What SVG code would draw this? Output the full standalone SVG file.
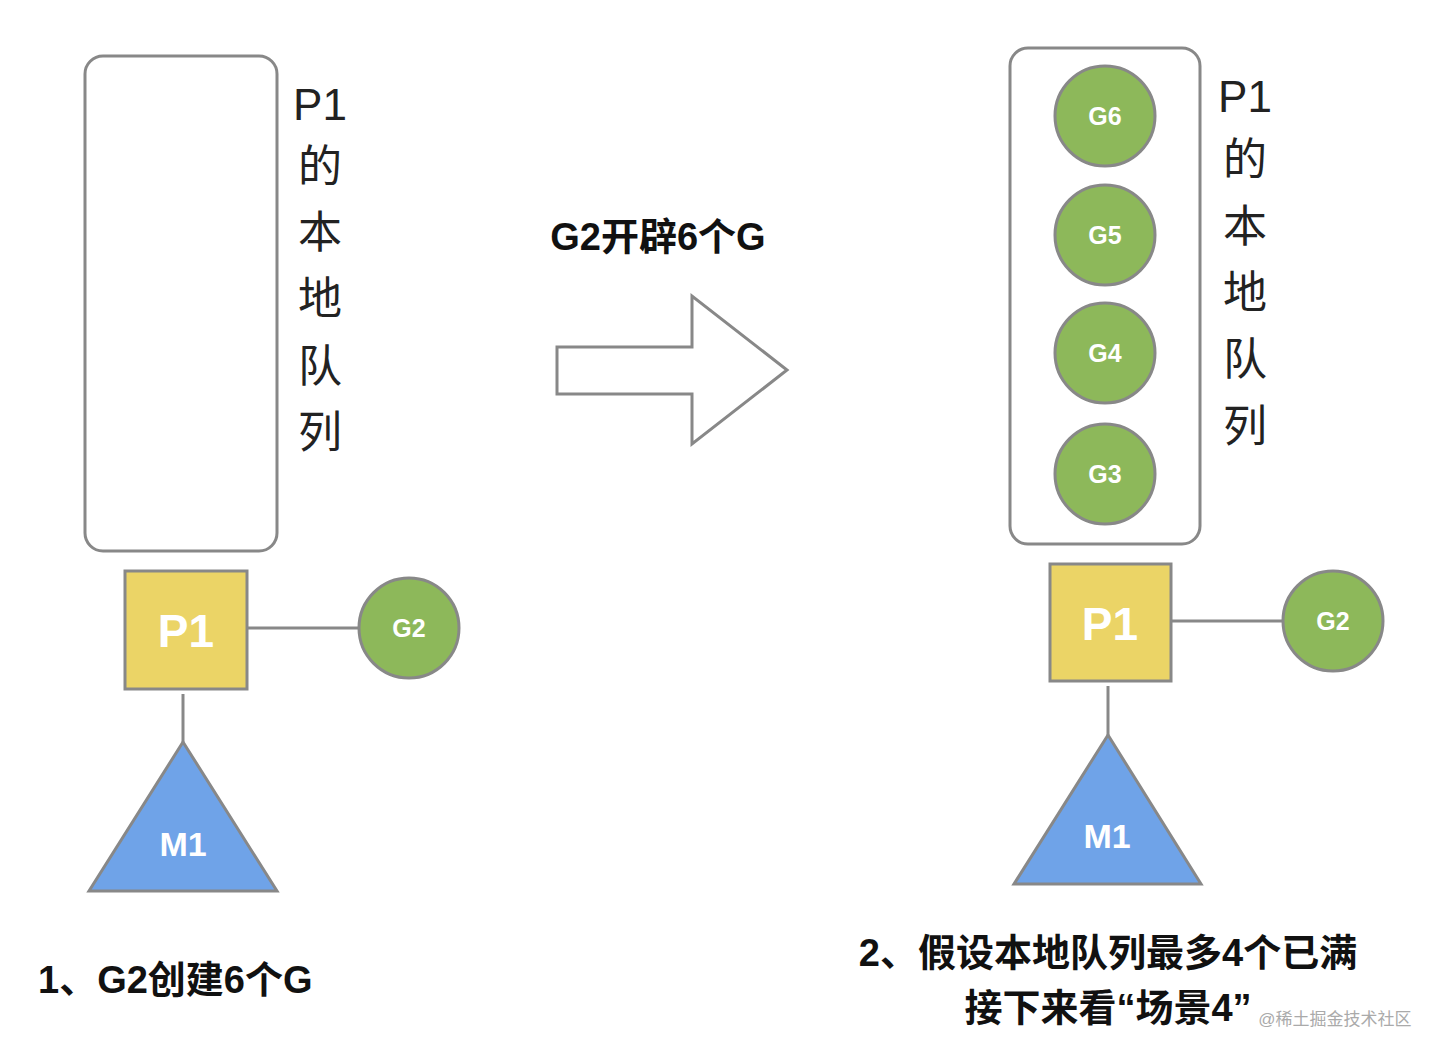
<svg xmlns="http://www.w3.org/2000/svg" width="1442" height="1056" viewBox="0 0 1442 1056">
<style>
.q{fill:#fff;stroke:#888;stroke-width:3}
.p{fill:#ebd466;stroke:#888;stroke-width:3}
.g{fill:#8db85a;stroke:#888;stroke-width:3}
.m{fill:#6fa3e8;stroke:#888;stroke-width:3}
.ln{stroke:#888;stroke-width:3;fill:none}
.w{fill:#fff;font-family:"Liberation Sans",Arial,sans-serif;font-weight:bold;text-anchor:middle}
.v{fill:#222;font-family:"Liberation Sans","Noto Sans CJK SC",sans-serif;font-size:44px;text-anchor:middle}
.b{fill:#111;font-family:"Liberation Sans","Noto Sans CJK SC",sans-serif;font-weight:bold;font-size:38px}
</style>
<rect width="1442" height="1056" fill="#fff"/>
<g id="connectors">
<line class="ln" x1="247" y1="628" x2="359" y2="628"/>
<line class="ln" x1="183" y1="694" x2="183" y2="742"/>
<line class="ln" x1="1171" y1="621" x2="1284" y2="621"/>
<line class="ln" x1="1108" y1="686" x2="1108" y2="735"/>
</g>
<g id="left-queue"><rect class="q" x="85" y="56" width="192" height="495" rx="18"/>
<g class="v"><text x="320" y="120">P1</text><text x="320" y="182">的</text><text x="320" y="248">本</text><text x="320" y="314">地</text><text x="320" y="382">队</text><text x="320" y="448">列</text></g></g>
<g id="left-p1"><rect class="p" x="125" y="571" width="122" height="118"/><text class="w" x="186" y="647" font-size="46">P1</text></g>
<g id="left-g2"><circle class="g" cx="409" cy="628" r="50"/><text class="w" x="409" y="637" font-size="25">G2</text></g>
<g id="left-m1"><polygon class="m" points="183,742 277,891 89,891"/><text class="w" x="183" y="856" font-size="34">M1</text></g>
<g id="arrow"><polygon points="557,347 692,347 692,296 787,370 692,444 692,394 557,394" fill="#fff" stroke="#888" stroke-width="3"/>
<text class="b" x="658" y="250" text-anchor="middle">G2开辟6个G</text></g>
<g id="right-queue"><rect class="q" x="1010" y="48" width="190" height="496" rx="18"/>
<g class="v"><text x="1245" y="112">P1</text><text x="1245" y="175">的</text><text x="1245" y="242">本</text><text x="1245" y="308">地</text><text x="1245" y="375">队</text><text x="1245" y="442">列</text></g></g>
<g id="g6"><circle class="g" cx="1105" cy="116" r="50"/><text class="w" x="1105" y="125" font-size="25">G6</text></g>
<g id="g5"><circle class="g" cx="1105" cy="235" r="50"/><text class="w" x="1105" y="244" font-size="25">G5</text></g>
<g id="g4"><circle class="g" cx="1105" cy="353" r="50"/><text class="w" x="1105" y="362" font-size="25">G4</text></g>
<g id="g3"><circle class="g" cx="1105" cy="474" r="50"/><text class="w" x="1105" y="483" font-size="25">G3</text></g>
<g id="right-p1"><rect class="p" x="1050" y="564" width="121" height="117"/><text class="w" x="1110" y="640" font-size="46">P1</text></g>
<g id="right-g2"><circle class="g" cx="1333" cy="621" r="50"/><text class="w" x="1333" y="630" font-size="25">G2</text></g>
<g id="right-m1"><polygon class="m" points="1108,735 1201,884 1014,884"/><text class="w" x="1107" y="848" font-size="34">M1</text></g>
<text class="b" x="38" y="993">1、G2创建6个G</text>
<text class="b" x="1108" y="966" text-anchor="middle">2、假设本地队列最多4个已满</text>
<text class="b" x="1108" y="1021" text-anchor="middle">接下来看“场景4”</text>
<text x="1335" y="1025" font-family="Liberation Sans,Noto Sans CJK SC,sans-serif" font-size="17" fill="#aaa" text-anchor="middle">@稀土掘金技术社区</text>
</svg>
